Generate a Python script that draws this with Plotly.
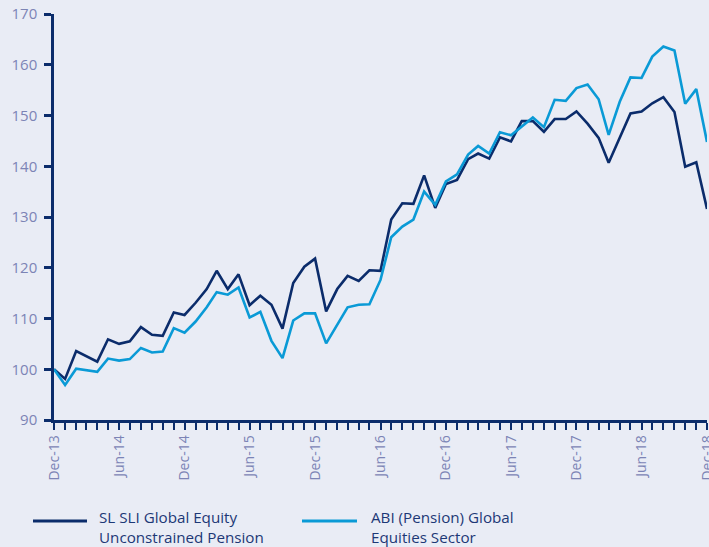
import pandas as pd
import plotly.graph_objects as go

# Monthly observation dates (Dec-13 .. Dec-18)
months = pd.date_range("2013-12-01", periods=61, freq="MS")

sl_sli_fund = [
    100.0, 98.1, 103.6, 102.6, 101.5, 105.9, 105.0, 105.5, 108.3, 106.8,
    106.6, 111.2, 110.7, 113.1, 115.8, 119.4, 115.8, 118.7, 112.6, 114.5,
    112.7, 108.0, 117.0, 120.2, 121.8, 111.4, 115.8, 118.4, 117.4, 119.5,
    119.4, 129.5, 132.7, 132.6, 138.2, 131.8, 136.5, 137.3, 141.4, 142.5,
    141.5, 145.7, 144.9, 148.9, 148.9, 146.8, 149.3, 149.3, 150.8, 148.4,
    145.6, 140.7, 145.5, 150.4, 150.8, 152.4, 153.6, 150.7, 139.9, 140.8,
    131.6,
]

abi_sector = [
    100.0, 96.9, 100.1, 99.8, 99.5, 102.1, 101.7, 102.0, 104.2, 103.3,
    103.5, 108.1, 107.2, 109.4, 112.2, 115.2, 114.7, 116.1, 110.2, 111.3,
    105.6, 102.2, 109.6, 111.0, 111.0, 105.1, 108.9, 112.2, 112.7, 112.8,
    117.6, 126.0, 128.1, 129.5, 135.0, 132.4, 137.0, 138.4, 142.3, 144.0,
    142.5, 146.7, 146.1, 147.8, 149.6, 147.7, 153.1, 152.9, 155.4, 156.1,
    153.2, 146.2, 152.7, 157.5, 157.4, 161.6, 163.6, 162.8, 152.3, 155.2,
    144.8,
]

series_names = [
    ("SL SLI Global Equity", "Unconstrained Pension"),
    ("ABI (Pension) Global", "Equities Sector"),
]

NAVY = "#0B2C6B"
CYAN = "#0A9AD6"
TICKTXT = "#7C84B5"
LEGTXT = "#1D3876"
BG = "#E9ECF5"
FONT = "Open Sans"

fig = go.Figure()
fig.add_trace(go.Scatter(
    x=months, y=sl_sli_fund, mode="lines",
    name=" ".join(series_names[0]),
    line=dict(color=NAVY, width=2.6), showlegend=False,
))
fig.add_trace(go.Scatter(
    x=months, y=abi_sector, mode="lines",
    name=" ".join(series_names[1]),
    line=dict(color=CYAN, width=2.6), showlegend=False,
))

W, H = 709, 547
L, R, T, B = 54, 2, 14, 127
pw = W - L - R
ph = H - T - B


def px_x(px):
    return (px - L) / pw


def px_y(py):
    return (H - B - py) / ph


# manual legend (long line samples, two-line labels)
legend_items = [
    (33, 87, 100, NAVY, series_names[0]),
    (302, 357, 372, CYAN, series_names[1]),
]
shapes = []
annotations = []
for x0, x1, tx, col, (l1, l2) in legend_items:
    shapes.append(dict(type="line", xref="paper", yref="paper",
                       x0=px_x(x0), x1=px_x(x1), y0=px_y(521), y1=px_y(521),
                       line=dict(color=col, width=3)))
    annotations.append(dict(text=l1 + "<br>" + l2, xref="paper", yref="paper",
                            x=px_x(tx - 2), y=px_y(548), xanchor="left",
                            yanchor="bottom", align="left", showarrow=False,
                            borderpad=0,
                            font=dict(family=FONT, size=15.2, color=LEGTXT)))

fig.update_layout(
    width=W, height=H,
    margin=dict(l=L, r=R, t=T, b=B, autoexpand=False),
    paper_bgcolor=BG, plot_bgcolor=BG,
    font=dict(family=FONT, color=TICKTXT),
    shapes=shapes, annotations=annotations,
    showlegend=False,
)
fig.update_xaxes(
    type="date", automargin=False,
    range=[months[0], months[-1]],
    tick0="2013-12-01", dtick="M6", tickformat="%b-%y",
    tickangle=-90, ticklabeloverflow="allow",
    ticks="outside", ticklen=7, tickwidth=2, tickcolor=NAVY,
    minor=dict(dtick="M1", ticks="outside", ticklen=7, tickwidth=2, tickcolor=NAVY),
    showline=True, linecolor=NAVY, linewidth=2.5,
    showgrid=False, zeroline=False,
    tickfont=dict(family=FONT, size=14, color=TICKTXT),
)
fig.update_yaxes(
    automargin=False, ticklabeloverflow="allow",
    range=[90, 170], dtick=10, tick0=90,
    ticks="outside", ticklen=7, tickwidth=2.5, tickcolor=NAVY,
    showline=True, linecolor=NAVY, linewidth=2.5,
    showgrid=False, zeroline=False,
    tickfont=dict(family=FONT, size=15, color=TICKTXT),
    ticklabelstandoff=4,
)

page_css = (
    "document.body.style.margin='0';"
    "document.body.style.overflow='hidden';"
    "document.body.style.background='" + BG + "';"
)
fig.write_html("out.html", post_script=page_css,
               config={"displayModeBar": False})
